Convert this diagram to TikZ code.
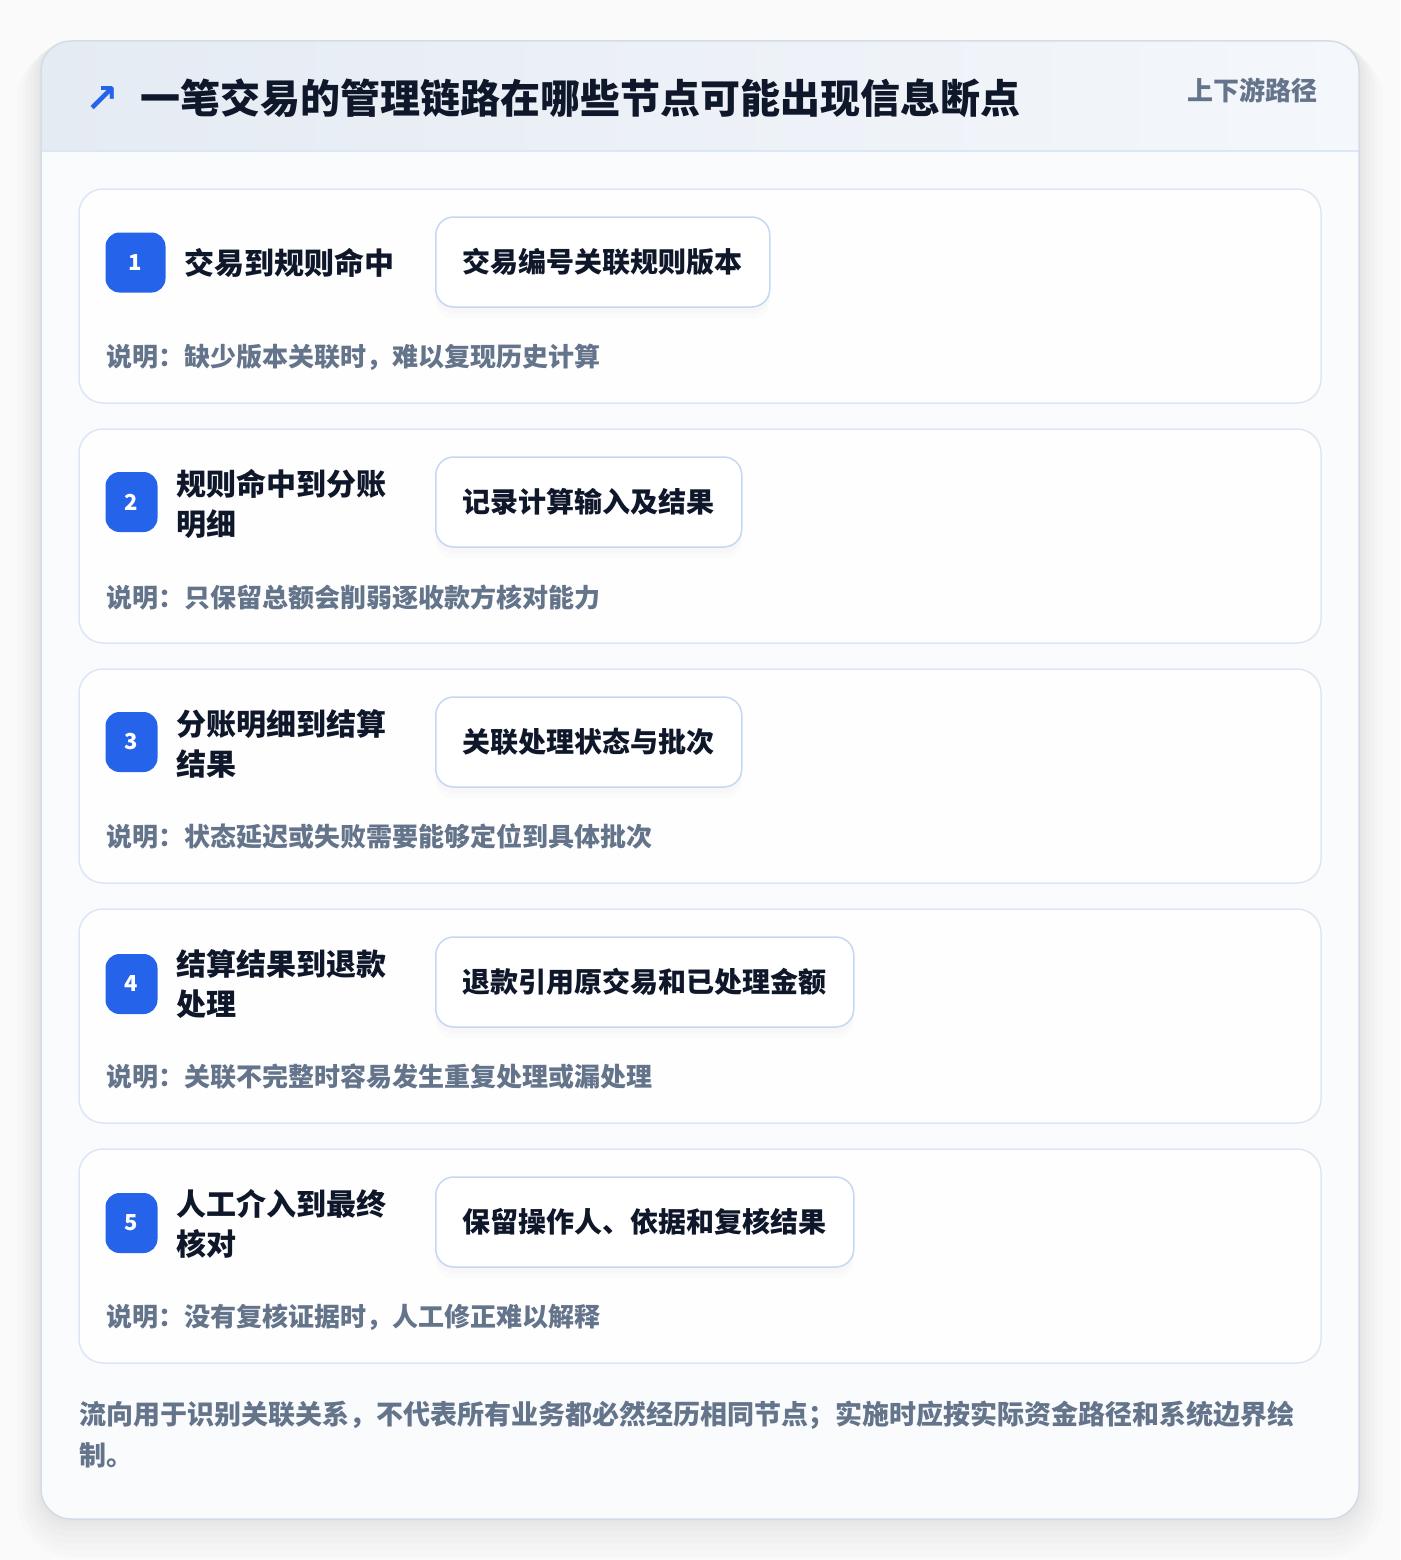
\documentclass[tikz,border=0pt]{standalone}
\usepackage{fontspec}
\setmainfont{Noto Sans CJK SC}
\newfontfamily\symfont{DejaVu Sans}
\usetikzlibrary{positioning,shadows}
\definecolor{pagebg}{HTML}{FAFAFB}
\definecolor{panelline}{HTML}{D3DCE7}
\definecolor{bodybg}{HTML}{FAFBFD}
\definecolor{headl}{HTML}{E5EBF3}
\definecolor{headr}{HTML}{F4F7FB}
\definecolor{headline}{HTML}{DCE7F5}
\definecolor{cardline}{HTML}{DCE7F5}
\definecolor{cardfill}{HTML}{FEFEFF}
\definecolor{chipline}{HTML}{C3D8F2}
\definecolor{bluecol}{HTML}{2563EB}
\definecolor{inkcol}{HTML}{0F172A}
\definecolor{graycol}{HTML}{64748B}
\tikzset{panel/.style={draw=panelline,line width=1.5pt,rounded corners=30pt}}
\tikzset{card/.style={draw=cardline,fill=cardfill,line width=1.5pt,rounded corners=24pt,minimum width=1242pt,minimum height=214pt}}
\tikzset{badge/.style={fill=bluecol,rounded corners=14pt,minimum height=60pt,inner sep=0pt,text=white,font=\fontsize{22}{22}\selectfont\bfseries}}
\tikzset{steplbl/.style={anchor=west,inner sep=0pt,align=left,text=inkcol,font=\fontsize{30}{40}\selectfont\bfseries}}
\tikzset{chip/.style={anchor=west,draw=chipline,fill=white,line width=1.5pt,rounded corners=18pt,minimum height=90pt,inner xsep=27pt,text=inkcol,font=\fontsize{28}{28}\selectfont\bfseries,
  drop shadow={opacity=0.025,shadow xshift=0pt,shadow yshift=-12pt},
  drop shadow={opacity=0.03,shadow xshift=0pt,shadow yshift=-6pt}}}
\tikzset{note/.style={anchor=west,inner sep=0pt,text=graycol,font=\fontsize{26}{26}\selectfont\bfseries}}
\tikzset{haze/.style={black,opacity=0.012}}

\begin{document}
\begin{tikzpicture}[x=1pt,y=-1pt]
\useasboundingbox (0,0) rectangle (1400,1560);
\fill [pagebg] (0,0) rectangle (1400,1560);
\fill [haze,rounded corners=56pt] (17,45) rectangle (1383,1557);
\fill [haze,rounded corners=50pt] (22,44) rectangle (1378,1550);
\fill [haze,rounded corners=45pt] (26,43) rectangle (1374,1543);
\fill [haze,rounded corners=40pt] (30,42) rectangle (1370,1537);
\fill [haze,rounded corners=36pt] (34,41) rectangle (1366,1531);
\fill [haze,rounded corners=33pt] (37,41) rectangle (1363,1526);
\fill [haze,rounded corners=31pt] (39,41) rectangle (1361,1522);
\fill [bodybg,rounded corners=30pt] (41,41) rectangle (1359,1519);
\begin{scope}
\clip [rounded corners=30pt] (41,41) rectangle (1359,1519);
\shade [left color=headl,right color=headr] (41,41) rectangle (1359,151);
\end{scope}
\draw [headline,line width=1.5pt] (41,151) -- (1359,151);
\draw [panel] (41,41) rectangle (1359,1519);

\node [text=bluecol,font=\symfont\bfseries\fontsize{40}{40}\selectfont] (icon) at (102,100) {↗};
\node [anchor=west,inner sep=0pt,text=inkcol,font=\fontsize{40}{40}\selectfont\bfseries] (title) at (140,98) {一笔交易的管理链路在哪些节点可能出现信息断点};
\node [anchor=east,inner sep=0pt,text=graycol,font=\fontsize{26}{26}\selectfont\bfseries] (tag) at (1318,90) {上下游路径};

\node [card] (c1) at (700,296) {};
\node [badge,minimum width=60pt] (b1) at (135.5,262.5) {1};
\node [steplbl] (l1) at (184,263) {交易到规则命中};
\node [chip] (k1) at (435,262) {交易编号关联规则版本};
\node [note] (n1) at (106,357) {说明：缺少版本关联时，难以复现历史计算};

\node [card] (c2) at (700,536) {};
\node [badge,minimum width=52pt] (b2) at (131.5,502) {2};
\node [steplbl] (l2) at (176,504) {规则命中到分账\\明细};
\node [chip] (k2) at (435,502) {记录计算输入及结果};
\node [note] (n2) at (106,597) {说明：只保留总额会削弱逐收款方核对能力};

\node [card] (c3) at (700,776) {};
\node [badge,minimum width=52pt] (b3) at (131.5,742) {3};
\node [steplbl] (l3) at (176,744) {分账明细到结算\\结果};
\node [chip] (k3) at (435,742) {关联处理状态与批次};
\node [note] (n3) at (106,837) {说明：状态延迟或失败需要能够定位到具体批次};

\node [card] (c4) at (700,1016) {};
\node [badge,minimum width=52pt] (b4) at (131.5,984) {4};
\node [steplbl] (l4) at (176,984) {结算结果到退款\\处理};
\node [chip] (k4) at (435,982) {退款引用原交易和已处理金额};
\node [note] (n4) at (106,1077) {说明：关联不完整时容易发生重复处理或漏处理};

\node [card] (c5) at (700,1256) {};
\node [badge,minimum width=52pt] (b5) at (131.5,1223) {5};
\node [steplbl] (l5) at (176,1224) {人工介入到最终\\核对};
\node [chip] (k5) at (435,1222) {保留操作人、依据和复核结果};
\node [note] (n5) at (106,1317) {说明：没有复核证据时，人工修正难以解释};

\node [anchor=north west,inner sep=0pt,align=left,text=graycol,font=\fontsize{27}{41}\selectfont\bfseries] (foot) at (79,1401) {流向用于识别关联关系，不代表所有业务都必然经历相同节点；实施时应按实际资金路径和系统边界绘\\制。};
\end{tikzpicture}
\end{document}
